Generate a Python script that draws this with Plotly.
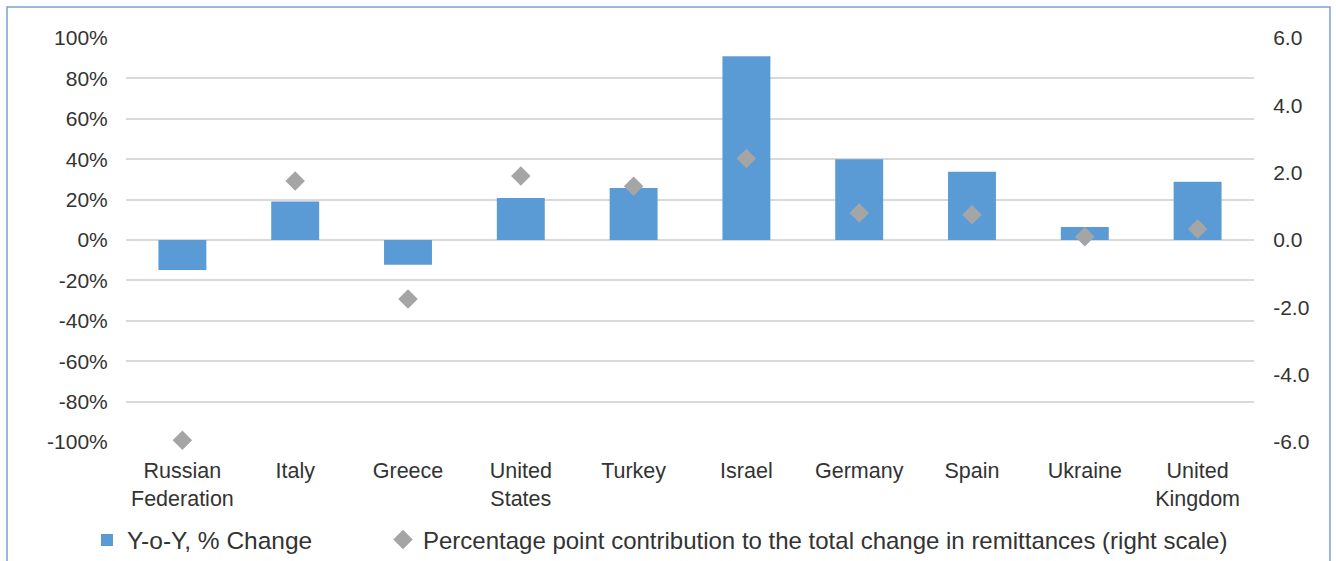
import plotly.graph_objects as go

countries = ["Russian<br>Federation", "Italy", "Greece", "United<br>States", "Turkey",
             "Israel", "Germany", "Spain", "Ukraine", "United<br>Kingdom"]
yoy_change = [-14.8, 19.0, -12.3, 20.8, 25.8, 91.0, 40.0, 33.8, 6.4, 28.8]
pp_contribution = [-5.95, 1.75, -1.75, 1.9, 1.6, 2.42, 0.8, 0.75, 0.1, 0.33]

left_ticks = list(range(-100, 101, 20))
left_labels = [f"{v}%" for v in left_ticks]
right_ticks = [-6, -4, -2, 0, 2, 4, 6]
right_labels = [f"{v:.1f}" for v in right_ticks]

FONT = "Liberation Sans, Arial, sans-serif"
TXT = "#333333"

W, H = 1336, 561
L, R, T, B = 126, 82, 38, 119
pw, ph = W - L - R, H - T - B

def px_x(x):
    return (x - L) / pw

def px_y(y):
    return (H - B - y) / ph

fig = go.Figure()
fig.add_trace(go.Bar(
    x=countries, y=yoy_change, name="Y-o-Y, % Change",
    marker=dict(color="#5b9bd5", line=dict(width=0)), width=0.425,
    yaxis="y", legend="legend"))
fig.add_trace(go.Scatter(
    x=countries, y=pp_contribution, mode="markers",
    name="Percentage point contribution to the total change in remittances (right scale)",
    marker=dict(symbol="diamond", size=15, color="#a5a5a5"), cliponaxis=False,
    yaxis="y2", legend="legend2"))

leg_common = dict(orientation="h", yanchor="middle", xanchor="left",
                  bgcolor="rgba(0,0,0,0)", itemsizing="trace")

fig.update_layout(
    width=W, height=H,
    margin=dict(l=L, r=R, t=T, b=B, pad=0, autoexpand=False),
    paper_bgcolor="white", plot_bgcolor="white",
    font=dict(family=FONT, size=21, color=TXT),
    showlegend=True,
    legend=dict(x=px_x(87), y=px_y(540), font=dict(size=24.5, color=TXT), **leg_common),
    legend2=dict(x=px_x(383), y=px_y(540), font=dict(size=24, color=TXT), **leg_common),
    xaxis=dict(range=[-0.5, 9.5], showgrid=False, showline=False, zeroline=False,
               tickfont=dict(size=21.5, color=TXT), ticks="outside", ticklen=9,
               tickcolor="rgba(0,0,0,0)"),
    yaxis=dict(range=[-100, 100], tickvals=left_ticks, ticktext=left_labels,
               showgrid=True, gridcolor="#d9d9d9", gridwidth=1.5,
               zeroline=False, showline=False,
               tickfont=dict(size=21, color=TXT),
               ticks="outside", ticklen=13, tickcolor="rgba(0,0,0,0)"),
    yaxis2=dict(range=[-6, 6], tickvals=right_ticks, ticktext=right_labels,
                overlaying="y", side="right", showgrid=False, zeroline=False,
                showline=False, tickfont=dict(size=21, color=TXT),
                ticks="outside", ticklen=14, tickcolor="rgba(0,0,0,0)"),
)

fig.add_shape(type="rect", xref="paper", yref="paper",
              x0=px_x(7), x1=px_x(1330), y0=px_y(600), y1=px_y(7),
              line=dict(color="#7f9fd4", width=1.5), fillcolor="rgba(0,0,0,0)", layer="below")

fig.write_html("out.html")
